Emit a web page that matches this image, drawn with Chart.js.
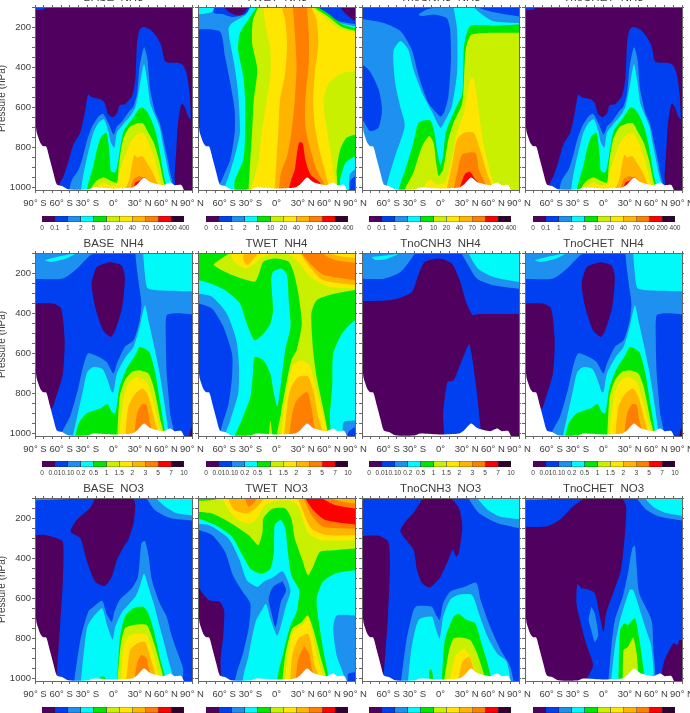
<!DOCTYPE html>
<html><head><meta charset="utf-8">
<script src="https://cdn.jsdelivr.net/npm/chart.js@4"></script>
<style>
html,body{margin:0;padding:0;background:#fff;width:690px;height:713px;overflow:hidden}
canvas{position:absolute;filter:blur(.35px)}
</style></head><body>
<script>
// Contour band colours, lowest class to highest
const levelColors=['#50005f','#0040f0','#1e90f0','#00fafa','#00e600','#c8f000','#ffe600','#ffb400','#ff8000','#ff0000','#32002f'];
const barLabelsNH3=['0','0.1','1','2','5','10','20','40','70','100','200','400'];
const barLabelsNH4=['0','0.01','0.10','0.2','0.5','1','1.5','2','3','5','7','10'];
const latLabels=['90° S','60° S','30° S','0°','30° N','60° N','90° N'];
const titles=[['BASE  NH3','TWET  NH3','TnoCNH3  NH3','TnoCHET  NH3'],
['BASE  NH4','TWET  NH4','TnoCNH3  NH4','TnoCHET  NH4'],
['BASE  NO3','TWET  NO3','TnoCNH3  NO3','TnoCHET  NO3']];
// Contour outlines: [class, [lat,hPa, lat,hPa, ...]]
const ALL=[-99,80,99,80,99,1040,-99,1040];
const terrain=[-99,680,-90,680,-88,726,-84,776,-81,793,-77,796,-73,859,-69,925,-65,984,-59,992,-52,1008,-30,1010,-23,1000,0,1005,21,1000,27,984,35,950,42,972,57,988,65,975,70,988,78,988,81,1040,-99,1040];

const baseNH3=[[0,ALL],
[1,[-99,80,-75,80,-80,112,-90,115,-99,115]],
[1,[-62,1040,-62,985,-57,940,-52,875,-46,785,-38,725,-33,630,-29,535,-25,550,-15,560,-10,578,-6,635,-1,650,4,630,7,590,13,585,21,545,25,460,27,280,30,212,34,200,42,212,49,245,55,295,59,370,65,378,74,378,80,392,84,435,87,520,88.5,660,85,640,82,600,78,582,74,677,72,810,70,940,69,1040]],
[2,[-52,1040,-48,965,-40,910,-36,860,-30,760,-25,700,-17,645,-12,632,-6,677,-2,720,0,735,2,720,4,695,10,670,18,620,23,595,27,530,30,395,35,300,39,362,42,510,48,627,53,677,59,795,65,925,68,1040]],
[3,[-38,1040,-35,945,-29,825,-23,725,-17,677,-11,660,-6,718,-3,775,1,800,4,725,11,685,19,645,25,600,30,495,35,385,39,478,42,577,47,635,53,700,57,795,63,925,67,1040]],
[4,[-30,1040,-30,1000,-23,890,-19,810,-14,745,-8,727,-6,775,-4,860,-3,917,2,925,5,875,11,725,18,677,23,650,29,610,32,600,38,618,43,660,48,718,52,795,57,925,60,1040]],
[5,[-25,1040,-25,1000,-19,965,-11,950,-4,965,4,975,6,890,11,760,18,700,27,680,34,680,40,727,46,775,52,860,57,965,60,1040]],
[6,[-19,1040,-19,1000,-11,975,-4,988,5,980,7,925,13,845,19,778,27,735,34,727,40,775,46,843,52,942,56,1040]],
[7,[10,1040,18,960,21,892,24,835,27,850,33,843,38,875,44,917,50,975,53,1040]],
[8,[17,1040,23,960,30,943,38,960,44,985,48,1040]],
[9,[21,1040,25,975,30,965,35,947,40,967,44,1040]]];

const twetNH3=[[1,ALL],
[2,[-99,210,-65,222,-59,347,-53,480,-48,612,-48,728,-53,860,-61,945,-66,995,-66,1040,82,1040,84,970,90,945,99,945,99,185,90,185,71,170,54,135,44,100,44,80,-30,80,-30,125,-50,150,-62,135,-72,130,-72,80,-99,80]],
[3,[-99,103,-72,103,-74,125,-85,135,-99,135]],
[3,[-59,1040,-59,995,-55,945,-48,845,-42,728,-44,530,-48,397,-53,280,-55,206,-51,180,-36,140,-30,100,-30,80,46,80,46,100,57,135,72,178,90,195,99,195,99,910,90,910,84,935,80,1040]],
[4,[-48,1040,-48,968,-38,860,-36,728,-36,562,-38,446,-44,314,-42,231,-30,148,-23,100,-23,80,48,80,48,100,60,135,75,185,90,205,99,205,99,845,90,845,79,878,73,960,71,1040]],
[5,[-32,1040,-32,1010,-30,860,-28,728,-26,562,-22,413,-28,280,-27,165,-21,100,-21,80,43,80,43,100,60,150,75,200,90,218,99,218,99,737,90,737,80,753,73,811,69,910,67,1040]],
[6,[-29,1040,-29,1010,-21,878,-17,728,-11,562,-7,446,-7,314,-13,180,-15,100,-15,80,41,80,41,100,55,150,72,207,90,225,99,225,99,421,90,421,75,430,60,480,54,562,56,662,61,795,65,910,67,1040]],
[7,[-2,1040,-2,1010,0,860,2,728,4,562,10,430,12,280,10,165,6,100,6,80,40,80,40,100,46,165,48,280,44,430,42,562,44,695,50,828,58,960,60,1040]],
[8,[2,1040,5,928,12,845,17,728,21,562,23,397,21,230,19,110,19,80,35,80,35,100,37,230,37,380,33,562,33,695,39,811,46,910,54,977,58,1040]],
[9,[12,1040,17,960,21,910,23,845,26,775,30,778,33,860,39,935,50,977,54,1040]],
[10,[26,1040,29,975,33,958,36,990,38,1040]],
[0,[-61,80,-61,100,-55,122,-47,140,-40,140,-32,100,-32,80]],
[0,[73,80,73,100,79,132,90,168,99,168,99,80]],
[0,[-99,620,-90,620,-88.5,650,-89.5,690,-99,690]]];

const cnoNH3=[[2,ALL],
[1,[-99,80,-99,160,-90,160,-65,180,-46,220,-33,312,-25,445,-14,577,-3,635,0,647,4,627,9,545,12,362,11,212,7,155,-6,138,-21,146,-25,138,-16,113,-6,100,-6,80]],
[1,[42,80,42,100,60,125,90,147,99,147,99,80]],
[1,[-99,387,-90,387,-81,420,-71,510,-67,610,-71,700,-81,718,-90,660,-99,660]],
[3,[-64,1040,-60,960,-52,843,-41,693,-46,600,-52,478,-54,320,-46,270,-37,312,-31,412,-21,528,-10,620,0,702,6,660,13,594,19,428,19,212,15,100,15,80,38,80,38,100,48,138,61,171,90,180,99,180,99,1040]],
[4,[-48,1040,-48,1010,-39,892,-31,776,-25,677,-12,665,-7,727,-3,843,0,887,3,843,6,727,15,627,25,528,27,295,34,196,61,193,90,187,99,187,99,1040]],
[5,[-41,1040,-41,1010,-31,925,-21,793,-13,743,-8,776,-5,875,-2,942,3,910,9,760,15,677,25,577,29,312,36,237,90,228,99,228,99,1040]],
[6,[-21,1040,-21,1010,-12,960,-5,985,5,975,11,892,19,727,27,627,34,460,38,453,42,560,49,776,57,925,63,1040]],
[7,[7,1040,7,1010,13,892,19,760,27,727,38,727,44,793,52,910,60,1040]],
[8,[15,1040,15,1010,20,910,25,835,40,827,44,910,50,967,56,1040]],
[9,[21,1040,23,990,28,933,34,922,40,960,46,985,48,1040]]];

const baseNH4=[[1,ALL],
[2,[-99,80,-18,80,-21,100,-27,112,-42,178,-58,227,-90,230,-99,230]],
[2,[25,80,99,80,99,405,90,405,72,400,61,410,60,535,61,700,65,900,68,1040,-60,1040,-59,992,-50,917,-41,784,-35,668,-29,600,-17,617,-8,643,0,700,4,650,13,568,23,535,30,436,32,352,29,253,27,186,25,100]],
[3,[34,80,99,80,99,291,90,291,40,278,36,203,34,100]],
[3,[-79,136,-65,120,-44,103,-54,128,-72,145]],
[3,[-48,1040,-40,883,-35,785,-30,693,-23,668,-13,677,-8,718,-2,793,0,793,4,700,14,618,23,568,30,468,36,360,40,435,46,552,53,700,59,867,63,992,64,1040]],
[4,[-45,1040,-40,950,-31,900,-15,875,-7,853,-2,892,2,900,7,768,15,677,25,610,30,568,41,593,48,700,53,834,59,992,60,1040]],
[5,[4,1040,7,818,13,735,21,693,30,685,40,700,46,767,53,917,57,1040]],
[6,[6,1040,11,834,17,750,27,718,38,743,44,817,50,917,55,1040]],
[7,[13,1040,17,867,25,800,34,776,40,817,48,950,52,1040]],
[8,[23,1040,27,900,33,853,38,858,41,933,46,1040]],
[0,[-99,352,-69,352,-60,377,-56,535,-58,700,-67,833,-71,875,-99,875]],
[0,[-4,145,9,161,13,220,10,369,2,485,-3,518,-12,485,-21,369,-25,253,-19,170]],
[0,[86,1040,88,985,91,965,99,965,99,1040]]];

const twetNH4=[[1,ALL],
[2,[-99,352,-90,352,-74,377,-61,468,-51,602,-51,718,-55,852,-63,968,-65,1040,80,1040,82,993,90,968,99,968,99,80,-99,80]],
[3,[-99,302,-90,302,-74,318,-57,402,-46,535,-43,668,-44,802,-53,935,-59,1040,73,1040,77,943,90,935,99,935,99,80,-99,80]],
[4,[-99,235,-90,235,-76,252,-59,285,-42,352,-34,452,-25,535,-15,502,-7,452,-4,385,-6,235,-4,193,6,177,12,210,14,335,16,468,10,585,5,752,1,868,-3,802,-7,702,-15,635,-25,618,-27,702,-30,818,-40,935,-48,1040,60,1040,61,918,64,752,65,602,75,502,90,435,99,435,99,80,-99,80]],
[5,[-54,80,-54,100,-63,127,-72,160,-51,210,-25,243,-20,202,-15,143,-2,127,14,143,20,202,25,302,29,452,23,585,17,635,9,802,5,902,2,1040,59,1040,59,1002,54,885,46,718,42,585,40,402,46,335,60,310,90,285,99,285,99,80]],
[5,[-9,1040,-8.5,1002,-7,935,-5,1002,-4.5,1040]],
[6,[-52,80,-50,135,-36,177,-24,148,-15,118,-5,108,14,105,28,160,38,218,60,268,90,277,99,277,99,80]],
[6,[5,1040,5,1002,9,868,14,735,19,660,29,635,38,660,44,752,52,885,58,1040]],
[7,[-37,80,-38,135,-33,160,-26,127,-21,100,-21,80]],
[7,[25,80,27,100,38,168,53,235,90,260,99,260,99,80]],
[7,[9,1040,9,1002,13,835,17,768,25,718,36,715,42,785,48,918,54,1040]],
[8,[29,80,29,100,40,160,54,210,90,235,99,235,99,150,90,148,67,135,52,100,52,80]],
[8,[15,1040,15,1002,18,902,23,835,35,793,40,868,43,952,47,1040]],
[6,[60,80,60,100,75,118,90,125,99,125,99,80]]];

const cnoNH4=[[1,ALL],
[2,[-99,228,-65,228,-46,195,-31,112,-28,80,-99,80]],
[2,[24,80,24,100,32,162,42,228,61,261,90,278,99,278,99,80]],
[3,[-79,120,-54,107,-46,100,-62,130,-75,135]],
[3,[32,80,32,100,43,178,61,220,90,245,99,245,99,80]],
[0,[-99,335,-81,340,-54,332,-33,295,-25,203,-18,145,-2,128,13,153,22,236,30,352,37,410,42,405,90,405,99,405,99,1040,46,1040,46,975,40,735,33,555,26,618,15,735,8,743,3,900,1,1040,-99,1040]]];

const baseNO3=[[1,ALL],
[2,[-99,80,-40,80,-45,103,-90,112,-99,112]],
[2,[38,80,38,100,47,158,65,200,90,212,99,212,99,80]],
[3,[49,80,49,100,59,142,72,175,90,187,99,187,99,80]],
[2,[-46,1040,-38,808,-29,667,-23,642,-13,612,-8,675,-2,717,1,667,7,608,21,550,28,492,32,325,36,313,40,383,44,508,53,625,61,692,67,792,78,925,80,958,76,1040]],
[3,[-38,1040,-35,908,-30,742,-23,692,-13,650,-8,725,-1,805,2,742,10,667,25,592,30,542,35,478,40,542,46,625,53,742,61,875,67,1040]],
[4,[4,1040,7,808,13,692,23,650,34,642,40,675,46,758,53,892,59,1040]],
[4,[-16,1040,-15,992,-10,992,-8,1040]],
[5,[4,1040,8,842,13,750,23,733,38,733,44,792,52,908,57,1040]],
[6,[8,1040,11,858,17,792,27,775,38,783,44,850,52,983,54,1040]],
[7,[14,1040,19,858,27,825,36,817,42,892,49,992,51,1040]],
[8,[23,1040,27,925,32,883,38,900,40,942,46,1040]],
[0,[-99,288,-80,283,-65,300,-58,317,-58,508,-61,725,-65,983,-65,1040,-99,1040]],
[0,[-21,80,-21,100,-27,150,-42,208,-49,258,-48,275,-38,300,-31,408,-21,517,-10,538,-2,492,4,408,13,333,17,308,23,225,25,133,22,100,20,80]]];

const twetNO3=[[1,ALL],
[2,[-99,260,-90,260,-74,285,-59,368,-50,485,-40,560,-30,627,-32,752,-38,868,-46,1040,80,1040,82,977,90,968,99,968,99,80,-99,80]],
[3,[-99,227,-78,235,-55,302,-43,402,-34,510,-22,543,-15,518,-5,498,7,465,16,560,11,635,1,785,-7,702,-12,627,-17,660,-24,718,-32,885,-37,1040,75,1040,77,985,69,885,65,752,69,685,90,685,99,685,99,80,-99,80]],
[1,[7,515,11,560,5,618,-1,743,-6,668,-9,602,-4,543]],
[4,[-99,202,-90,202,-70,235,-51,293,-40,377,-30,452,-17,477,-7,452,-3,368,-2,235,5,210,10,252,13,368,17,485,26,560,23,668,16,735,8,868,2,1040,59,1040,60,1002,54,868,48,702,46,602,53,518,67,477,90,460,99,460,99,80,-99,80]],
[5,[-99,168,-74,177,-55,218,-32,285,-21,335,-16,268,-15,202,-5,155,10,152,17,202,21,302,29,402,36,485,42,443,50,368,67,360,90,352,99,352,99,80,-99,80]],
[5,[7,1040,7,1002,10,885,18,752,29,718,36,685,42,752,50,885,57,1040]],
[4,[-99,80,-65,80,-70,108,-99,112]],
[6,[-62,80,-62,100,-55,160,-44,210,-30,227,-21,193,-15,143,-4,118,14,112,25,140,31,218,37,277,52,310,90,310,99,310,99,80]],
[6,[10,1040,10,1002,14,868,19,768,31,727,36,693,40,752,46,885,54,1040]],
[7,[-57,80,-53,127,-48,160,-36,177,-26,160,-15,105,-15,80]],
[7,[23,80,29,152,40,252,58,285,90,285,99,285,99,80]],
[7,[16,1040,16,1002,18,885,25,802,36,777,40,835,43,918,50,1040]],
[8,[-38,80,-36,105,-32,143,-26,125,-20,80]],
[8,[28,80,31,100,40,185,53,243,90,252,99,252,99,80]],
[8,[22,1040,22,1002,25,902,32,843,38,885,40,943,46,1040]],
[9,[32,80,33,100,42,160,56,210,90,232,99,232,99,152,90,152,67,135,52,100,52,80]],
[7,[60,80,62,100,75,118,90,128,99,128,99,80]],
[0,[-99,535,-90,540,-86,568,-77,610,-65,618,-60,660,-61,785,-64,900,-66,1040,-99,1040]]];

const cnoNO3=[[1,ALL],
[2,[32,80,32,100,44,175,65,225,90,250,99,250,99,80]],
[3,[42,80,42,100,54,158,68,192,90,205,99,205,99,80]],
[2,[-46,1040,-39,808,-31,658,-27,638,-10,642,-6,675,-1,708,3,625,11,567,28,542,41,522,46,608,57,742,69,858,80,942,82,1040]],
[3,[-38,1040,-33,842,-25,708,-10,692,-6,742,-1,800,3,692,11,608,20,583,36,583,44,675,54,792,65,875,76,917,78,1040]],
[4,[1,1040,5,808,15,692,21,678,30,708,40,725,47,825,55,942,58,1040]],
[4,[-12,1040,-13,960,-10,955,-8,1040]],
[5,[3,1040,10,858,15,800,23,795,34,808,42,875,50,983,52,1040]],
[6,[9,1040,17,892,27,850,34,892,42,985,44,1040]],
[7,[19,1040,25,917,33,892,38,950,44,992,46,1040]],
[0,[-99,292,-71,288,-60,317,-58,425,-60,675,-65,983,-65,1040,-99,1040]],
[0,[-21,108,-8,100,12,105,21,150,25,242,21,375,18,392,14,358,9,408,0,492,-12,545,-21,525,-27,458,-31,358,-46,267,-40,217,-31,175]]];

const chetNO3=[[1,ALL],
[2,[-99,80,-50,80,-55,103,-90,112,-99,112]],
[2,[38,80,38,100,49,158,64,192,90,212,99,212,99,80]],
[3,[47,80,47,100,59,150,72,175,90,188,99,188,99,80]],
[2,[-14,642,-10,675,-6,783,-10,817,-14,758,-17,708]],
[2,[5,1040,9,842,13,708,22,592,28,475,33,350,36,338,38,442,41,575,55,708,57,842,57,1040]],
[3,[8,1040,13,842,19,708,30,558,34,558,43,675,49,758,55,842,55,1040]],
[4,[17,1040,19,758,24,725,28,733,36,700,40,775,45,925,46,1040]],
[5,[22,1040,23,858,28,842,34,795,38,875,40,983,41,1040]],
[0,[-99,242,-66,242,-50,208,-35,142,-22,100,-22,80,22,80,22,100,26,142,25,258,20,458,11,575,3,675,0,767,-4,692,-10,575,-18,555,-25,550,-30,528,-31,625,-27,708,-20,825,-12,933,-20,1008,-22,1040,-99,1040]],
[0,[65,1040,66,992,70,908,80,825,85,833,87,808,90,808,99,808,99,1040]]];

const panels=[[baseNH3,twetNH3,cnoNH3,baseNH3],[baseNH4,twetNH4,cnoNH4,baseNH4],[baseNO3,twetNO3,cnoNO3,chetNO3]];
const barLabels=[barLabelsNH3,barLabelsNH4,barLabelsNH4];

const panelX=[35,198,362,525], panelY=[7,253,498], barX=[42,206,369,533], barY=[216,461,707];
const W=157,H=183,LEFT=40,RIGHT=40,TOP=22,BOT=30,FRAME='#666',TXT='#3c3c3c',FONT='"Liberation Sans",Arial,sans-serif';

function mk(l,t,w,h){const c=document.createElement('canvas');c.width=w;c.height=h;c.style.left=l+'px';c.style.top=t+'px';c.style.width=w+'px';c.style.height=h+'px';document.body.appendChild(c);return c;}
function pts(a){const o=[];for(let i=0;i<a.length;i+=2)o.push({x:a[i],y:a[i+1]});o.push({x:a[0],y:a[1]});return o;}
function ds(a,color){return {type:'scatter',showLine:true,data:pts(a),fill:'shape',backgroundColor:color,borderColor:color,borderWidth:0,pointRadius:0,pointHoverRadius:0,tension:0.22,capBezierPoints:false};}

panels.forEach((row,r)=>row.forEach((bands,c)=>{
  const list=[ds(terrain,'#ffffff')];
  for(let i=bands.length-1;i>=0;i--)list.push(ds(bands[i][1],levelColors[bands[i][0]]));
  new Chart(mk(panelX[c]-LEFT,panelY[r]-TOP,W+LEFT+RIGHT,H+TOP+BOT),{
    type:'scatter',data:{datasets:list},
    options:{responsive:false,animation:false,events:[],
      layout:{padding:0,autoPadding:false},
      plugins:{legend:{display:false},tooltip:{enabled:false},
        title:{display:true,text:titles[r][c],color:TXT,font:{family:FONT,size:11.5,weight:'normal',lineHeight:1},padding:{top:7.5,bottom:3}}},
      scales:{
        x:{type:'linear',position:'bottom',min:-90,max:90,afterFit:s=>{s.height=BOT;},
          border:{display:true,color:FRAME,z:1},grid:{drawOnChartArea:false,tickLength:3,color:FRAME,z:1},
          ticks:{stepSize:10,autoSkip:false,maxRotation:0,color:TXT,padding:5,font:{family:FONT,size:9.5},
            callback:v=>(v%30===0&&!(v===-90&&c>0))?latLabels[(v+90)/30]:''}},
        x2:{type:'linear',position:'top',min:-90,max:90,afterFit:s=>{s.height=0;},
          border:{display:true,color:FRAME,z:1},grid:{drawOnChartArea:false,tickLength:2,color:FRAME,z:1},
          ticks:{stepSize:10,display:false}},
        y:{type:'linear',position:'left',reverse:true,min:100,max:1012,afterFit:s=>{s.width=LEFT;},
          border:{display:true,color:FRAME,z:1},grid:{drawOnChartArea:false,tickLength:3,color:FRAME,z:1},
          title:{display:c===0,text:'Pressure (hPa)',color:TXT,font:{family:FONT,size:10},padding:{top:1,bottom:0}},
          ticks:{stepSize:50,includeBounds:false,autoSkip:false,color:TXT,padding:1,font:{family:FONT,size:9.5},
            callback:v=>(c===0&&v%200===0)?String(v):''}},
        y2:{type:'linear',position:'right',reverse:true,min:100,max:1012,afterFit:s=>{s.width=RIGHT;},
          border:{display:true,color:FRAME,z:1},grid:{drawOnChartArea:false,tickLength:2,color:FRAME,z:1},
          ticks:{stepSize:50,includeBounds:false,display:false}}
      }}
  });
  // colour bar
  const labs=barLabels[r];
  new Chart(mk(barX[c]-20,barY[r],182,20),{
    type:'bar',
    data:{labels:[''],datasets:levelColors.map(col=>({data:[1],backgroundColor:col,borderColor:'#222',borderWidth:0.6,barPercentage:1,categoryPercentage:1}))},
    options:{indexAxis:'y',responsive:false,animation:false,events:[],
      layout:{padding:{left:20,right:20},autoPadding:false},
      plugins:{legend:{display:false},tooltip:{enabled:false}},
      scales:{
        x:{stacked:true,min:0,max:11,afterFit:s=>{s.height=14;},border:{display:false},grid:{display:false,drawTicks:false,tickLength:0},
          ticks:{stepSize:1,autoSkip:false,maxRotation:0,color:TXT,padding:2.5,font:{family:FONT,size:6.6},callback:v=>labs[v]}},
        y:{stacked:true,display:false}
      }}
  });
}));
</script>
</body></html>
